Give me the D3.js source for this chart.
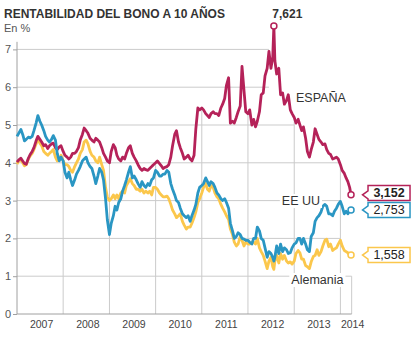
<!DOCTYPE html>
<html><head><meta charset="utf-8">
<script src="https://cdn.jsdelivr.net/npm/d3@7"></script>
<style>
body{margin:0;background:#fff}
svg{display:block}
text{font-family:"Liberation Sans",Arial,Helvetica,sans-serif}
</style>
</head><body>
<svg id="chart" width="414" height="338"></svg>
<script>
// ---------- DATA ----------
const title = "RENTABILIDAD DEL BONO A 10 AÑOS";
const unitLabel = "En %";
const yTicks = [0, 1, 2, 3, 4, 5, 6, 7];
const yearLabels = ["2007", "2008", "2009", "2010", "2011", "2012", "2013", "2014"];
const seriesNames = ["ESPAÑA", "EE UU", "Alemania"];
const peakDate = "2012-07-24";
const lastDate = "2014-03-26";
// semi-monthly readings (1st and 15th of each month, 2007-01 .. 2014-03-15),
// plus the peak day and the last day
const spain = [
  4.02,4.08,4.12,4.05,3.98,3.96,4.12,4.22,4.30,4.40,4.58,4.70,4.62,4.55,4.45,4.48,4.38,4.45,4.50,4.52,4.40,4.35,4.42,4.45,
  4.30,4.20,4.15,4.10,4.15,4.25,4.25,4.30,4.40,4.60,4.75,4.92,4.85,4.78,4.65,4.60,4.55,4.65,4.60,4.55,4.40,4.25,4.15,4.05,
  4.00,4.30,4.48,4.40,4.20,4.10,4.05,4.15,4.10,4.25,4.40,4.45,4.25,4.15,4.05,3.95,3.85,3.80,3.85,3.82,3.80,3.85,3.90,3.95,
  4.00,4.05,3.98,3.92,3.85,3.88,3.90,3.95,4.15,4.45,4.75,4.85,4.55,4.40,4.25,4.10,4.15,4.20,4.10,4.05,4.20,4.90,5.45,5.40,
  5.45,5.40,5.30,5.25,5.20,5.30,5.35,5.30,5.30,5.25,5.45,5.55,5.70,6.05,6.25,5.05,5.10,5.05,5.20,5.35,5.50,6.55,5.90,5.35,
  5.30,5.40,5.00,5.15,4.95,5.10,5.35,5.80,5.85,6.30,6.50,6.95,6.50,6.80,7.621,6.70,6.35,6.50,5.80,5.85,5.55,5.65,5.80,5.40,5.30,
  5.20,5.05,5.15,5.00,4.85,4.95,4.65,4.30,4.15,4.35,4.55,4.90,4.75,4.62,4.55,4.48,4.50,4.35,4.25,4.22,4.10,4.12,4.15,4.10,
  3.95,3.80,3.72,3.60,3.50,3.35,3.152
];
const usa = [
  4.70,4.78,4.88,4.75,4.58,4.62,4.68,4.66,4.70,4.85,5.05,5.25,5.10,5.00,4.85,4.70,4.60,4.55,4.62,4.72,4.60,4.25,4.05,4.15,
  4.05,3.75,3.60,3.75,3.55,3.40,3.55,3.70,3.80,3.90,4.05,4.10,4.15,4.00,3.90,3.85,3.65,3.45,3.65,3.85,3.75,3.55,3.05,2.50,
  2.10,2.40,2.60,2.85,2.75,2.95,3.05,3.25,3.40,3.55,3.75,3.90,3.60,3.65,3.55,3.45,3.35,3.50,3.40,3.35,3.45,3.40,3.55,3.60,
  3.80,3.75,3.65,3.65,3.70,3.70,3.80,3.75,3.45,3.30,3.15,3.00,2.95,2.80,2.65,2.60,2.55,2.60,2.45,2.60,2.75,2.90,3.20,3.35,
  3.40,3.45,3.60,3.50,3.40,3.50,3.45,3.35,3.20,3.15,3.05,3.00,3.05,2.95,2.80,2.40,2.20,2.00,2.05,2.15,2.10,2.00,1.98,1.95,
  1.95,1.90,1.85,2.00,2.00,2.30,2.20,2.00,1.95,1.75,1.50,1.65,1.60,1.50,1.40,1.50,1.80,1.60,1.85,1.65,1.75,1.70,1.60,1.62,1.75,
  1.85,1.88,2.00,2.00,1.85,2.00,1.85,1.70,1.65,2.05,2.15,2.45,2.55,2.60,2.70,2.85,2.90,2.85,2.65,2.65,2.60,2.72,2.80,2.90,
  2.98,2.85,2.65,2.72,2.65,2.75,2.753
];
const germany = [
  3.97,4.05,4.08,4.00,3.92,3.95,4.10,4.18,4.25,4.35,4.50,4.62,4.52,4.45,4.30,4.25,4.20,4.25,4.30,4.35,4.15,4.05,4.10,4.20,
  4.05,3.95,3.95,3.90,3.80,3.75,3.90,4.00,4.10,4.25,4.35,4.55,4.60,4.50,4.30,4.20,4.15,4.05,4.00,4.15,3.95,3.80,3.35,3.10,
  3.00,3.05,3.15,3.05,3.15,3.05,3.20,3.25,3.20,3.40,3.50,3.58,3.45,3.40,3.30,3.30,3.25,3.30,3.20,3.25,3.20,3.25,3.15,3.35,
  3.35,3.30,3.20,3.15,3.10,3.10,3.12,3.05,2.90,2.75,2.65,2.55,2.60,2.65,2.45,2.35,2.25,2.30,2.30,2.40,2.55,2.70,2.95,3.05,
  3.20,3.35,3.45,3.30,3.25,3.40,3.35,3.20,3.10,3.05,2.90,2.80,2.70,2.60,2.50,2.25,2.10,1.90,1.80,1.85,2.05,1.95,1.80,1.90,
  1.85,1.85,1.90,1.90,1.85,2.00,1.75,1.65,1.55,1.40,1.20,1.40,1.50,1.25,1.18,1.40,1.55,1.35,1.60,1.45,1.55,1.40,1.35,1.38,1.32,
  1.40,1.60,1.68,1.62,1.45,1.45,1.28,1.25,1.20,1.38,1.52,1.55,1.70,1.55,1.65,1.80,1.95,1.98,1.78,1.85,1.68,1.72,1.75,1.85,
  1.95,1.80,1.68,1.65,1.62,1.55,1.558
];
// where each horizontal gridline stops (date along the x axis)
const gridEnds = ["2014-03-31","2014-03-31","2014-01-01","2014-01-01","2014-01-01","2013-01-01","2012-06-15","2012-06-15"];
// series-name label anchors, in data coordinates
const nameAnchors = [
  {name: "ESPAÑA", date: "2013-07-31", value: 5.60, bg: false},
  {name: "EE UU", date: "2013-02-23", value: 2.884, bg: true},
  {name: "Alemania", date: "2013-07-03", value: 0.794, bg: true}
];

// ---------- SETUP ----------
const parse = d3.timeParse("%Y-%m-%d");
const dates = [];
for (let y = 2007; y <= 2014; y++)
  for (let m = 0; m < 12; m++)
    for (const d of [1, 15]) {
      const t = new Date(y, m, d);
      if (t <= new Date(2014, 2, 15)) dates.push(t);
    }
dates.push(parse(peakDate), parse(lastDate));
dates.sort((a, b) => a - b);

const colors = {spain: "#b52259", usa: "#2a96c3", germany: "#fbc74c"};
const series = [
  {key: "germany", name: "Alemania", values: germany, color: colors.germany},
  {key: "spain", name: "ESPAÑA", values: spain, color: colors.spain},
  {key: "usa", name: "EE UU", values: usa, color: colors.usa}
].map(s => ({...s, points: s.values.map((v, i) => ({date: dates[i], value: v}))}));

const svg = d3.select("#chart");
const x = d3.scaleTime().domain([new Date(2007,0,1), new Date(2014,0,1)]).range([17, 340.4]);
const y = d3.scaleLinear().domain([0, 7]).range([314, 49.4]);
const xEnd = x(new Date(2014, 2, 31));
const grid = "#cbcbcb", axisCol = "#a0a0a0", txt = "#333";

// title
svg.append("text").attr("x", 4).attr("y", 18).attr("font-size", 12).attr("font-weight", "bold")
  .attr("fill", txt).text(title);
svg.append("text").attr("x", 4).attr("y", 31.5).attr("font-size", 11).attr("fill", "#555").text(unitLabel);

// horizontal gridlines
yTicks.forEach((v, i) => {
  if (v === 0) return;
  svg.append("line").attr("x1", 17).attr("x2", Math.min(xEnd, x(parse(gridEnds[i]))))
    .attr("y1", y(v)).attr("y2", y(v)).attr("stroke", grid).attr("stroke-width", 1);
});
// vertical year lines, rising to the Spanish curve
const spainPts = series.find(s => s.key === "spain").points;
const bis = d3.bisector(d => d.date).left;
function spainAt(t) {
  const i = bis(spainPts, t);
  const a = spainPts[Math.max(0, i - 1)], b = spainPts[Math.min(spainPts.length - 1, i)];
  if (a === b || +b.date === +a.date) return b.value;
  return a.value + (b.value - a.value) * (t - a.date) / (b.date - a.date);
}
for (let yr = 2008; yr <= 2014; yr++) {
  const t = new Date(yr, 0, 1);
  svg.append("line").attr("x1", x(t)).attr("x2", x(t)).attr("y1", y(0)).attr("y2", y(spainAt(t)))
    .attr("stroke", grid).attr("stroke-width", 1);
}
// right border (bottom part)
svg.append("line").attr("x1", xEnd).attr("x2", xEnd).attr("y1", y(1)).attr("y2", y(0))
  .attr("stroke", grid).attr("stroke-width", 1);

// y axis
const yAxis = svg.append("g").attr("transform", "translate(17,0)")
  .call(d3.axisLeft(y).tickValues(yTicks).tickSize(4).tickPadding(2).tickFormat(d3.format("d")));
yAxis.select(".domain").attr("d", `M0,${y(7.2)}V${y(0)}`).attr("stroke", axisCol);
yAxis.selectAll(".tick line").attr("stroke", axisCol);
yAxis.selectAll(".tick text").attr("font-size", 11).attr("fill", "#555")
  .attr("font-family", '"Liberation Sans",Arial,sans-serif');
// baseline
svg.append("line").attr("x1", 17).attr("x2", xEnd).attr("y1", y(0)).attr("y2", y(0))
  .attr("stroke", axisCol).attr("stroke-width", 1);

// year labels
yearLabels.forEach((lab, i) => {
  const yr = +lab;
  const a = x(new Date(yr, 0, 1));
  const g = svg.append("text").attr("y", 327.5).attr("font-size", 10.5).attr("fill", "#444").text(lab);
  if (yr < 2014) g.attr("x", (a + x(new Date(yr + 1, 0, 1))) / 2 + 1.5).attr("text-anchor", "middle");
  else g.attr("x", a + 0.5).attr("text-anchor", "start");
});

// series lines
const line = d3.line().x(d => x(d.date)).y(d => y(d.value));
series.forEach(s => {
  svg.append("path").datum(s.points).attr("d", line).attr("fill", "none")
    .attr("stroke", s.color).attr("stroke-width", 2.8).attr("stroke-linejoin", "round");
});

// name labels
nameAnchors.forEach(a => {
  const t = svg.append("text").attr("x", x(parse(a.date))).attr("y", y(a.value))
    .attr("text-anchor", "middle").attr("font-size", 12.5).attr("fill", txt).text(a.name);
  if (a.bg) {
    const bb = t.node().getBBox();
    svg.insert("rect", () => t.node()).attr("x", bb.x - 2).attr("y", bb.y)
      .attr("width", bb.width + 4).attr("height", bb.height).attr("fill", "#fff");
  }
});

// peak marker
const pk = spainPts.find(d => +d.date === +parse(peakDate));
svg.append("circle").attr("cx", x(pk.date)).attr("cy", y(pk.value)).attr("r", 3)
  .attr("fill", "#fff").attr("stroke", colors.spain).attr("stroke-width", 1.5);
svg.append("text").attr("x", x(pk.date) - 1.5).attr("y", y(pk.value) - 8)
  .attr("font-size", 12).attr("font-weight", "bold").attr("fill", txt)
  .text(String(pk.value).replace(".", ","));

// end markers and value boxes
const ends = ["spain", "usa", "germany"].map(k => {
  const s = series.find(q => q.key === k);
  const p = s.points[s.points.length - 1];
  return {s, p, cy: y(p.value)};
});
// keep boxes apart
const boxH = 15, boxW = 42, gap = 17;
ends.forEach(e => e.by = e.cy);
for (let i = ends.length - 2; i >= 0; i--) {
  if (ends[i + 1].by - ends[i].by < gap) ends[i].by = ends[i + 1].by - gap;
}
ends.forEach(e => {
  const cx = x(e.p.date);
  svg.append("circle").attr("cx", cx).attr("cy", e.cy).attr("r", 3)
    .attr("fill", "#fff").attr("stroke", e.s.color).attr("stroke-width", 1.5);
  const bx = cx + 17, top = e.by - boxH / 2, bot = e.by + boxH / 2;
  const tipY = Math.max(top + 4, Math.min(bot - 4, e.cy));
  const path = `M${bx},${top}H${bx + boxW}V${bot}H${bx}V${tipY + 4}L${bx - 5.5},${tipY}L${bx},${tipY - 4}Z`;
  svg.append("path").attr("d", path).attr("fill", "#fff").attr("stroke", e.s.color).attr("stroke-width", 1.5);
  svg.append("text").attr("x", bx + boxW / 2).attr("y", e.by + 4.3).attr("text-anchor", "middle")
    .attr("font-size", 12.5).attr("font-weight", e.s.key === "spain" ? "bold" : "normal")
    .attr("fill", "#222").text(String(e.p.value).replace(".", ","));
});
</script>
</body></html>
